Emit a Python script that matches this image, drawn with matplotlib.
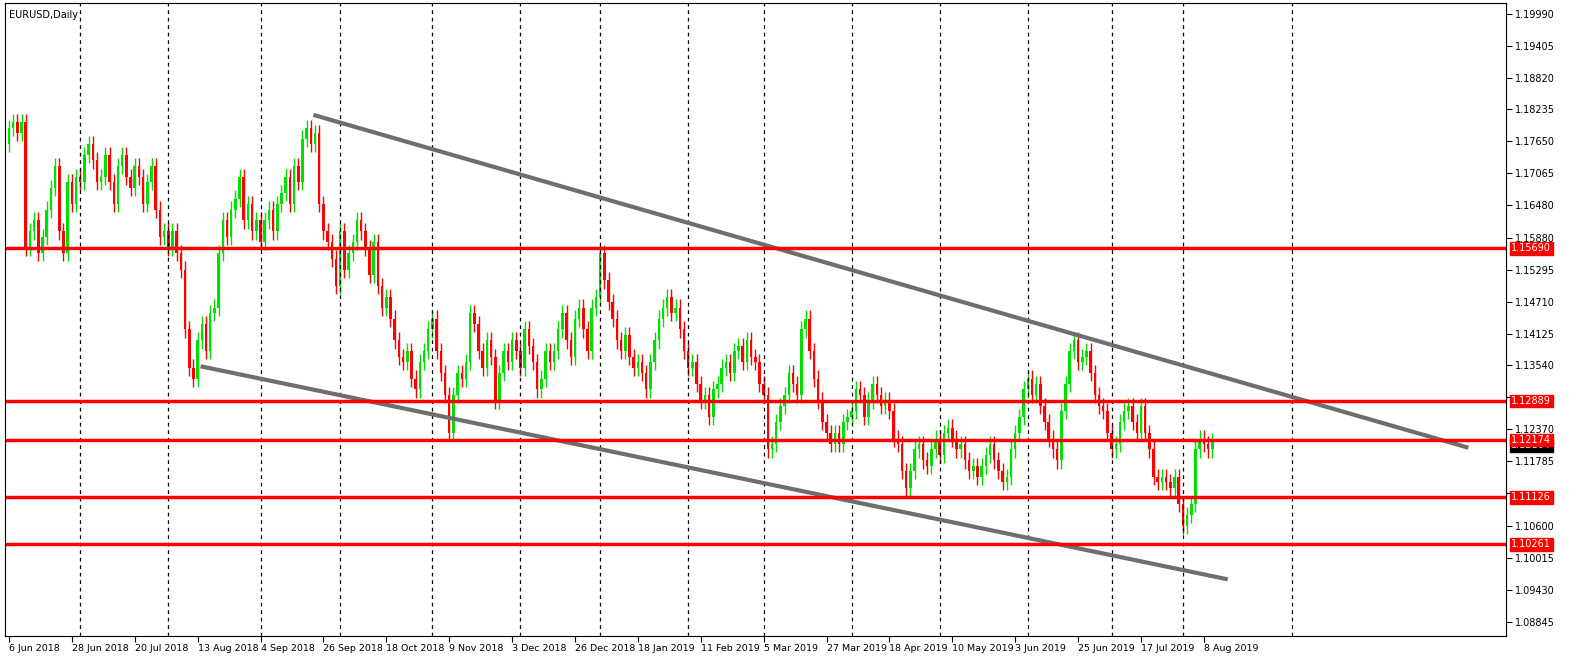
import matplotlib
matplotlib.use("Agg")
import matplotlib.pyplot as plt
import numpy as np

# daily closes EURUSD, 6 Jun 2018 .. mid Aug 2019
closes = [
    1.1790, 1.1800, 1.1780, 1.1800, 1.1570, 1.1600, 1.1620, 1.1560, 1.1590, 1.1640,
    1.1680, 1.1720, 1.1600, 1.1560, 1.1690, 1.1650, 1.1700, 1.1690, 1.1740, 1.1760,
    1.1730, 1.1690, 1.1700, 1.1740, 1.1690, 1.1650, 1.1720, 1.1740, 1.1700, 1.1680,
    1.1720, 1.1700, 1.1650, 1.1690, 1.1720, 1.1640, 1.1590, 1.1600, 1.1570, 1.1600,
    1.1560, 1.1530, 1.1420, 1.1350, 1.1330, 1.1400, 1.1430, 1.1380, 1.1450, 1.1460,
    1.1560, 1.1620, 1.1590, 1.1640, 1.1660, 1.1700, 1.1620, 1.1650, 1.1600, 1.1620,
    1.1580, 1.1620, 1.1640, 1.1600, 1.1650, 1.1670, 1.1700, 1.1650, 1.1720, 1.1690,
    1.1770, 1.1790, 1.1760, 1.1780, 1.1650, 1.1600, 1.1580, 1.1550, 1.1500, 1.1600,
    1.1530, 1.1560, 1.1580, 1.1620, 1.1600, 1.1570, 1.1520, 1.1580, 1.1500, 1.1460,
    1.1480, 1.1440, 1.1400, 1.1370, 1.1360, 1.1380, 1.1330, 1.1310, 1.1360, 1.1380,
    1.1420, 1.1440, 1.1380, 1.1340, 1.1300, 1.1230, 1.1300, 1.1340, 1.1330, 1.1360,
    1.1450, 1.1430, 1.1380, 1.1350, 1.1400, 1.1370, 1.1290, 1.1340, 1.1380, 1.1360,
    1.1400, 1.1380, 1.1350, 1.1420, 1.1390, 1.1360, 1.1310, 1.1330, 1.1380, 1.1360,
    1.1380, 1.1420, 1.1450, 1.1400, 1.1370, 1.1440, 1.1460, 1.1420, 1.1380, 1.1460,
    1.1480, 1.1560, 1.1510, 1.1470, 1.1440, 1.1400, 1.1380, 1.1410, 1.1370, 1.1350,
    1.1360, 1.1340, 1.1310, 1.1360, 1.1400, 1.1440, 1.1460, 1.1480, 1.1450, 1.1460,
    1.1420, 1.1380, 1.1350, 1.1360, 1.1320, 1.1290, 1.1300, 1.1260, 1.1310, 1.1320,
    1.1350, 1.1360, 1.1340, 1.1380, 1.1390, 1.1360, 1.1400, 1.1370, 1.1360, 1.1320,
    1.1300, 1.1200, 1.1210, 1.1250, 1.1280, 1.1300, 1.1340, 1.1320, 1.1300, 1.1420,
    1.1440, 1.1380, 1.1330, 1.1290, 1.1250, 1.1230, 1.1210, 1.1230, 1.1210, 1.1250,
    1.1260, 1.1270, 1.1310, 1.1300, 1.1260, 1.1290, 1.1320, 1.1300, 1.1280, 1.1290,
    1.1270, 1.1220, 1.1210, 1.1160, 1.1130, 1.1160, 1.1200, 1.1210, 1.1180, 1.1170,
    1.1200, 1.1220, 1.1190, 1.1230, 1.1240, 1.1220, 1.1200, 1.1210, 1.1180, 1.1160,
    1.1170, 1.1150, 1.1170, 1.1190, 1.1210, 1.1180, 1.1160, 1.1140, 1.1150, 1.1200,
    1.1230, 1.1260, 1.1310, 1.1330, 1.1300, 1.1320, 1.1280, 1.1250, 1.1220, 1.1200,
    1.1180, 1.1270, 1.1320, 1.1380, 1.1400, 1.1360, 1.1370, 1.1380, 1.1340, 1.1300,
    1.1280, 1.1270, 1.1230, 1.1200, 1.1210, 1.1250, 1.1270, 1.1280, 1.1250, 1.1230,
    1.1280, 1.1230, 1.1200, 1.1150, 1.1140, 1.1150, 1.1140, 1.1130, 1.1150, 1.1100,
    1.1060, 1.1080, 1.1100, 1.1200, 1.1220, 1.1210, 1.1200, 1.1216,
]
first_open = 1.1760
wick = 0.0015

date_labels = ["6 Jun 2018", "28 Jun 2018", "20 Jul 2018", "13 Aug 2018", "4 Sep 2018",
               "26 Sep 2018", "18 Oct 2018", "9 Nov 2018", "3 Dec 2018", "26 Dec 2018",
               "18 Jan 2019", "11 Feb 2019", "5 Mar 2019", "27 Mar 2019", "18 Apr 2019",
               "10 May 2019", "3 Jun 2019", "25 Jun 2019", "17 Jul 2019", "8 Aug 2019"]
label_step = 15
month_starts = [17, 38, 60, 79, 101, 122, 141, 162, 180, 201, 222, 243, 263, 280, 306]

price_ticks = [1.19990, 1.19405, 1.18820, 1.18235, 1.17650, 1.17065, 1.16480, 1.15880,
               1.15295, 1.14710, 1.14125, 1.13540, 1.12955, 1.12370, 1.11785, 1.11200,
               1.10600, 1.10015, 1.09430, 1.08845]
levels = [1.15690, 1.12889, 1.12174, 1.11126, 1.10261]
last_price = 1.12164

# trendlines: (index, price) endpoints
upper_line = ([72.6, 348.1], [1.18135, 1.12032])
lower_line = ([45.7, 290.7], [1.13526, 1.09619])

closes = np.array(closes)
opens = np.concatenate([[first_open], closes[:-1]])
idx = np.arange(len(closes))

fig = plt.figure(figsize=(15.9, 6.66), dpi=100)
ax = fig.add_axes([0.003, 0.045, 0.944, 0.95])

for i, o, c in zip(idx, opens, closes):
    col = "#00e000" if c >= o else "#ff0000"
    lo, hi = min(o, c), max(o, c)
    ax.vlines(i, lo - wick, hi + wick, color=col, lw=1)
    ax.bar(i, max(hi - lo, 0.0002), bottom=lo, width=0.6, color=col, lw=0)

for m in month_starts:
    ax.axvline(m, color="black", ls=(0, (3, 3)), lw=0.9)

ax.plot(*upper_line, color="#6e6e6e", lw=3, solid_capstyle="butt")
ax.plot(*lower_line, color="#6e6e6e", lw=3, solid_capstyle="butt")

for lv in levels:
    ax.axhline(lv, color="red", lw=2.5)

ax.set_xlim(-1, 357)
ax.set_ylim(1.0858, 1.2018)
ax.set_xticks([k * label_step for k in range(len(date_labels))])
ax.set_xticklabels(date_labels, fontsize=6.8, ha="left")
ax.tick_params(axis="x", length=4, pad=2)
ax.yaxis.tick_right()
ax.set_yticks(price_ticks)
ax.set_yticklabels([f"{p:.5f}" for p in price_ticks], fontsize=7)
ax.tick_params(axis="y", length=4, pad=3)

# hide tick labels that sit under the level boxes
for lbl, p in zip(ax.get_yticklabels(), price_ticks):
    if any(abs(p - lv) < 0.0012 for lv in levels + [last_price]):
        lbl.set_visible(False)

for lv in levels:
    ax.annotate(f"{lv:.5f}", xy=(1.0, lv), xycoords=("axes fraction", "data"),
                xytext=(4, 0), textcoords="offset points", va="center", ha="left",
                fontsize=7, color="white",
                bbox=dict(boxstyle="square,pad=0.15", fc="red", ec="red"))
ax.annotate(f"{last_price:.5f}", xy=(1.0, last_price - 0.0009), xycoords=("axes fraction", "data"),
            xytext=(4, 0), textcoords="offset points", va="center", ha="left",
            fontsize=7, color="white", zorder=1,
            bbox=dict(boxstyle="square,pad=0.15", fc="black", ec="black"))

ax.text(0.003, 0.99, "EURUSD,Daily", transform=ax.transAxes, fontsize=7, va="top")

fig.savefig("out.png", dpi=100)
